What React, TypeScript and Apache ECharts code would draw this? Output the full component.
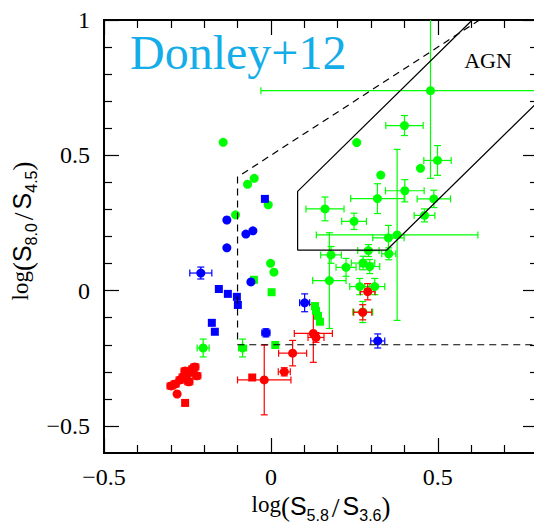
import React, { useEffect, useRef } from 'react';
import * as echarts from 'echarts';

// Axis extents and tick positions
const X_RANGE = [-0.5, 0.8];
const Y_RANGE = [-0.6, 1];
const X_MAJOR = [-0.5, 0, 0.5];
const X_MINOR = [-0.4, -0.3, -0.2, -0.1, 0.1, 0.2, 0.3, 0.4, 0.6, 0.7];
const Y_MAJOR = [-0.5, 0, 0.5, 1];
const Y_MINOR = [-0.4, -0.3, -0.2, -0.1, 0.1, 0.2, 0.3, 0.4, 0.6, 0.7, 0.8, 0.9];

// Donley et al. (2012) AGN wedge (solid)
const DONLEY_WEDGE = [[0.603, 1.0], [0.08, 0.367], [0.08, 0.15], [0.347, 0.15], [0.8, 0.698]];
// Lacy et al. colour selection (dashed)
const LACY_REGION = [[0.625, 1.0], [-0.1, 0.42], [-0.1, -0.2], [0.8, -0.2]];

// Sources: [log(S5.8/S3.6), log(S8.0/S4.5), xErr, yErr]
const GREEN_CIRCLES = [
  [-0.143, 0.548, 0, 0],
  [-0.05, 0.415, 0, 0],
  [-0.07, 0.393, 0, 0],
  [-0.008, 0.317, 0, 0],
  [-0.106, 0.28, 0, 0],
  [-0.001, 0.101, 0, 0],
  [0.009, 0.068, 0, 0],
  [-0.203, -0.212, 0.018, 0.033],
  [-0.085, -0.212, 0.012, 0.033],
  [0.162, 0.302, 0.057, 0.044],
  [0.249, 0.256, 0.037, 0.03],
  [0.319, 0.34, 0.08, 0.055],
  [0.401, 0.369, 0.058, 0.041],
  [0.329, 0.427, 0, 0],
  [0.257, 0.547, 0, 0],
  [0.448, 0.452, 0, 0],
  [0.499, 0.481, 0.041, 0.055],
  [0.488, 0.339, 0.05, 0.032],
  [0.46, 0.278, 0.031, 0.024],
  [0.4, 0.61, 0.056, 0.037],
  [0.478, 0.739, 0.508, 0.324],
  [0.378, 0.206, 0.242, 0.316],
  [0.352, 0.195, 0.047, 0.046],
  [0.353, 0.136, 0.021, 0.022],
  [0.292, 0.148, 0.032, 0.022],
  [0.18, 0.132, 0.031, 0.031],
  [0.225, 0.086, 0.03, 0.033],
  [0.276, 0.102, 0.035, 0.025],
  [0.296, 0.089, 0.03, 0.026],
  [0.175, 0.037, 0.05, 0.177],
  [0.266, 0.015, 0.03, 0.03],
  [0.311, 0.015, 0.03, 0.03],
  [0.275, -0.079, 0.03, 0.039],
];
const GREEN_SQUARES = [
  [-0.051, 0.04],
  [0.002, -0.006],
  [0.013, -0.201],
  [0.132, -0.057],
  [0.135, -0.075],
  [0.141, -0.093],
  [0.147, -0.115],
];

const BLUE_CIRCLES = [
  [-0.21, 0.065, 0.033, 0.022],
  [-0.132, 0.261, 0, 0],
  [-0.132, 0.158, 0, 0],
  [-0.075, 0.209, 0, 0],
  [-0.054, 0.221, 0, 0],
  [-0.06, 0.032, 0, 0],
  [-0.015, -0.156, 0.012, 0.015],
  [0.101, -0.045, 0.015, 0.033],
  [0.32, -0.186, 0.021, 0.026],
];
const BLUE_SQUARES = [
  [-0.018, 0.339],
  [-0.156, 0.006],
  [-0.129, -0.012],
  [-0.102, -0.023],
  [-0.099, -0.053],
  [-0.177, -0.119],
  [-0.168, -0.152],
];

const RED_CIRCLES = [
  [-0.299, -0.352, 0.012, 0.012],
  [-0.287, -0.345, 0.012, 0.012],
  [-0.281, -0.382, 0, 0],
  [-0.272, -0.33, 0.012, 0.012],
  [-0.263, -0.319, 0.012, 0.012],
  [-0.257, -0.297, 0.012, 0.012],
  [-0.251, -0.308, 0.012, 0.012],
  [-0.246, -0.337, 0.012, 0.012],
  [-0.24, -0.3, 0.012, 0.012],
  [-0.234, -0.289, 0.012, 0.012],
  [-0.228, -0.282, 0.012, 0.012],
  [-0.222, -0.315, 0.012, 0.012],
  [-0.02, -0.33, 0.08, 0.129],
  [0.04, -0.3, 0.018, 0.015],
  [0.065, -0.231, 0.042, 0.047],
  [0.127, -0.158, 0.057, 0.107],
  [0.135, -0.173, 0.024, 0.018],
  [0.275, -0.08, 0.027, 0.028],
  [0.29, -0.004, 0.022, 0.03],
];
const RED_SQUARES = [
  [-0.257, -0.415],
  [-0.056, -0.321],
];

const GREEN = '#00ff00';
const BLUE = '#0000ff';
const RED = '#ff0000';
const SERIF = '"Liberation Serif", "Times New Roman", serif';
const SANS = '"Liberation Sans", Arial, sans-serif';
const CAP = 3.5;

const fmt = (v: number) => {
  const r = Math.round(v * 10) / 10;
  return (r < 0 ? '\u2212' : '') + String(Math.abs(r));
};

function tickAxis(dim: 'x' | 'y', position: string, values: number[], length: number, labels: boolean) {
  const range = dim === 'x' ? X_RANGE : Y_RANGE;
  return {
    type: 'value',
    min: range[0],
    max: range[1],
    position,
    axisLine: { show: false, onZero: false },
    splitLine: { show: false },
    axisTick: {
      show: true,
      inside: true,
      length,
      customValues: values,
      lineStyle: { color: '#000', width: 1.2 },
    },
    axisLabel: labels
      ? {
          show: true,
          customValues: values,
          formatter: fmt,
          fontFamily: SERIF,
          fontSize: 24,
          color: '#000',
          margin: dim === 'x' ? 12 : 14,
        }
      : { show: false },
  };
}

function errorBars(data: number[][], color: string) {
  return {
    type: 'custom',
    data,
    clip: true,
    silent: true,
    encode: { x: 0, y: 1 },
    renderItem: (_params: any, api: any) => {
      const x = api.value(0) as number;
      const y = api.value(1) as number;
      const xe = api.value(2) as number;
      const ye = api.value(3) as number;
      const c = api.coord([x, y]);
      const style = { stroke: color, lineWidth: 1.2 };
      const kids: any[] = [];
      const seg = (x1: number, y1: number, x2: number, y2: number) =>
        kids.push({ type: 'line', shape: { x1, y1, x2, y2 }, style });
      if (xe > 0) {
        const a = api.coord([x - xe, y])[0];
        const b = api.coord([x + xe, y])[0];
        seg(a, c[1], b, c[1]);
        seg(a, c[1] - CAP, a, c[1] + CAP);
        seg(b, c[1] - CAP, b, c[1] + CAP);
      }
      if (ye > 0) {
        const a = api.coord([x, y - ye])[1];
        const b = api.coord([x, y + ye])[1];
        seg(c[0], a, c[0], b);
        seg(c[0] - CAP, a, c[0] + CAP, a);
        seg(c[0] - CAP, b, c[0] + CAP, b);
      }
      return { type: 'group', children: kids };
    },
  };
}

function markers(data: number[][], color: string, symbol: string, size: number) {
  return {
    type: 'scatter',
    data: data.map((d) => [d[0], d[1]]),
    symbol,
    symbolSize: size,
    silent: true,
    itemStyle: { color, opacity: 1 },
  };
}

function boundary(data: number[][], dashed: boolean) {
  return {
    type: 'line',
    data,
    showSymbol: false,
    symbol: 'none',
    silent: true,
    clip: true,
    lineStyle: { color: '#000', width: 1.2, type: dashed ? [7, 5] : 'solid' },
  };
}

const titleRich = {
  a: { fontFamily: SERIF, fontSize: 23, lineHeight: 30, verticalAlign: 'top', fill: '#000' },
  p: { fontFamily: SERIF, fontSize: 27, lineHeight: 30, verticalAlign: 'top', fill: '#000' },
  S: { fontFamily: SANS, fontSize: 25, lineHeight: 30, verticalAlign: 'top', fill: '#000' },
  sl: { fontFamily: SERIF, fontSize: 28, lineHeight: 30, verticalAlign: 'top', fill: '#000', padding: [0, 3, 0, 3] },
  s: { fontFamily: SANS, fontSize: 16, lineHeight: 12, verticalAlign: 'bottom', fill: '#000' },
};

export default function App() {
  const ref = useRef<HTMLDivElement>(null);

  useEffect(() => {
    if (!ref.current) return;
    const chart = echarts.init(ref.current, undefined, { renderer: 'svg' });
    chart.setOption({
      animation: false,
      backgroundColor: '#fff',
      grid: {
        left: 104,
        top: 20,
        right: -4,
        bottom: 71,
        show: true,
        borderColor: '#000',
        borderWidth: 2,
        backgroundColor: 'transparent',
        outerBoundsMode: 'none',
      },
      xAxis: [
        tickAxis('x', 'bottom', X_MAJOR, 15, true),
        tickAxis('x', 'bottom', X_MINOR, 8, false),
        tickAxis('x', 'top', X_MAJOR, 15, false),
        tickAxis('x', 'top', X_MINOR, 8, false),
      ],
      yAxis: [
        tickAxis('y', 'left', Y_MAJOR, 15, true),
        tickAxis('y', 'left', Y_MINOR, 8, false),
        tickAxis('y', 'right', Y_MAJOR, 15, false),
        tickAxis('y', 'right', Y_MINOR, 8, false),
      ],
      series: [
        boundary(LACY_REGION, true),
        boundary(DONLEY_WEDGE, false),
        errorBars(GREEN_CIRCLES, GREEN),
        markers(GREEN_CIRCLES, GREEN, 'circle', 9),
        markers(GREEN_SQUARES, GREEN, 'rect', 8),
        errorBars(BLUE_CIRCLES, BLUE),
        markers(BLUE_CIRCLES, BLUE, 'circle', 9),
        markers(BLUE_SQUARES, BLUE, 'rect', 8),
        errorBars(RED_CIRCLES, RED),
        markers(RED_CIRCLES, RED, 'circle', 9),
        markers(RED_SQUARES, RED, 'rect', 8),
      ],
      graphic: [
        {
          type: 'text',
          x: 130,
          y: 52,
          silent: true,
          style: {
            text: 'Donley+12',
            fontFamily: SERIF,
            fontSize: 48,
            fill: '#14ade8',
            align: 'left',
            verticalAlign: 'middle',
          },
        },
        {
          type: 'text',
          x: 488,
          y: 60,
          silent: true,
          style: {
            text: 'AGN',
            fontFamily: SERIF,
            fontSize: 22,
            fill: '#000',
            align: 'center',
            verticalAlign: 'middle',
          },
        },
        {
          type: 'text',
          x: 321,
          y: 508,
          silent: true,
          style: {
            text: '{a|log}{p|(}{S|S}{s|5.8}{sl|/}{S|S}{s|3.6}{p|)}',
            rich: titleRich,
            align: 'center',
            verticalAlign: 'middle',
          },
        },
        {
          type: 'text',
          x: 24,
          y: 231,
          rotation: Math.PI / 2,
          silent: true,
          style: {
            text: '{a|log}{p|(}{S|S}{s|8.0}{sl|/}{S|S}{s|4.5}{p|)}',
            rich: titleRich,
            align: 'center',
            verticalAlign: 'middle',
          },
        },
      ],
    });
    return () => chart.dispose();
  }, []);

  return (
    <div
      ref={ref}
      style={{ position: 'fixed', left: 0, top: 0, width: 534, height: 524, overflow: 'hidden' }}
    />
  );
}
